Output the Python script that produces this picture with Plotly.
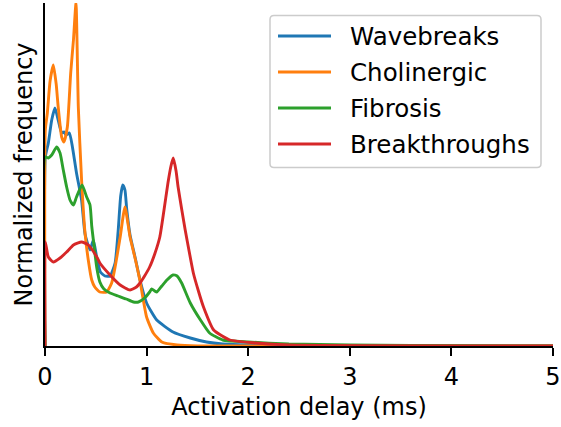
import plotly.graph_objects as go

# ---------------- data ----------------
series_names = ["Wavebreaks", "Cholinergic", "Fibrosis", "Breakthroughs"]
series_colors = ["#1f77b4", "#ff7f0e", "#2ca02c", "#d62728"]

x_wave = [0, 0.003, 0.033, 0.066, 0.098, 0.13, 0.164, 0.187, 0.207, 0.24, 0.27, 0.31,
          0.36, 0.394, 0.443, 0.476, 0.51, 0.545, 0.59, 0.64, 0.69, 0.72, 0.745, 0.765,
          0.787, 0.804, 0.837, 0.886, 0.935, 1.0, 1.1, 1.26, 1.43, 1.59, 1.75, 2.0, 2.5,
          3.0, 5.0]
y_wave = [0, 189, 203, 226, 238, 226, 213, 214, 211, 213, 199, 173,
          146, 112, 96, 106, 88, 74, 70, 70, 83, 115, 150, 161,
          156, 137, 111, 89, 66, 43, 26, 14, 8, 4, 2, 1, 0.5,
          0.3, 0]

x_chol = [0, 0.003, 0.023, 0.05, 0.082, 0.11, 0.13, 0.164, 0.187, 0.22, 0.253, 0.28,
          0.305, 0.328, 0.36, 0.394, 0.426, 0.46, 0.49, 0.54, 0.607, 0.656, 0.69, 0.74,
          0.787, 0.837, 0.886, 0.935, 1.0, 1.066, 1.15, 1.3, 1.5, 5.0]
y_chol = [0, 216, 233, 265, 281, 262, 239, 209, 204, 219, 273, 306,
          343, 239, 166, 113, 86, 66, 59, 54, 54, 63, 79, 109,
          139, 109, 88, 65, 29, 13, 4, 1, 0, 0]

x_fib = [0, 0.003, 0.033, 0.066, 0.115, 0.148, 0.18, 0.213, 0.246, 0.28, 0.31, 0.365,
         0.41, 0.443, 0.46, 0.476, 0.51, 0.54, 0.58, 0.64, 0.72, 0.8, 0.87, 0.92, 0.98,
         1.03, 1.05, 1.08, 1.1, 1.15, 1.2, 1.26, 1.3, 1.345, 1.43, 1.53, 1.62, 1.75, 2.0,
         2.4, 3.0, 3.6, 5.0]
y_fib = [0, 189, 188, 191, 199, 193, 176, 159, 146, 141, 149, 161,
         149, 141, 120, 106, 78, 64, 57, 53, 50, 47, 44, 44, 48,
         54, 57, 55, 54, 60, 66, 71, 70, 63, 43, 26, 13, 6, 4,
         2, 1, 0.5, 0]

x_brk = [0, 0.003, 0.033, 0.082, 0.148, 0.213, 0.28, 0.36, 0.426, 0.51, 0.54, 0.64,
         0.74, 0.837, 0.9, 0.935, 0.98, 1.03, 1.08, 1.13, 1.17, 1.21, 1.24, 1.263, 1.29,
         1.31, 1.345, 1.38, 1.42, 1.46, 1.51, 1.56, 1.66, 1.82, 2.08, 2.4, 5.0]
y_brk = [0, 104, 89, 84, 88, 94, 101, 104, 101, 89, 83, 71,
         61, 56, 59, 63, 70, 79, 92, 109, 135, 163, 180, 188, 175,
         159, 137, 116, 94, 73, 55, 39, 16, 6, 3, 1, 0]

x_ticks = [0, 1, 2, 3, 4, 5]
x_title = "Activation delay (ms)"
y_title = "Normalized frequency"

xs = [x_wave, x_chol, x_fib, x_brk]
ys = [y_wave, y_chol, y_fib, y_brk]

# ---------------- figure ----------------
W, H = 561, 427
L, R, T, B = 45, 8, 3, 81
FONT = "DejaVu Sans"

fig = go.Figure()
for name, col, xv, yv in zip(series_names, series_colors, xs, ys):
    fig.add_trace(go.Scatter(x=xv, y=yv, mode="lines", name=name,
                             line=dict(color=col, width=2.9, shape="spline", smoothing=0.5),
                             showlegend=False))

pw, ph = W - L - R, H - T - B


def pxx(xp):
    return (xp - L) / pw


def pyy(yp):
    return (H - B - yp) / ph


# custom legend (matplotlib style)
bx0, bx1, by0, by1, rad = 270, 541, 15.5, 167.5, 4
x0, x1 = pxx(bx0), pxx(bx1)
y0, y1 = pyy(by1), pyy(by0)
rx, ry = rad / pw, rad / ph
path = (f"M {x0+rx},{y0} L {x1-rx},{y0} Q {x1},{y0} {x1},{y0+ry} "
        f"L {x1},{y1-ry} Q {x1},{y1} {x1-rx},{y1} L {x0+rx},{y1} "
        f"Q {x0},{y1} {x0},{y1-ry} L {x0},{y0+ry} Q {x0},{y0} {x0+rx},{y0} Z")
fig.add_shape(type="path", path=path, xref="paper", yref="paper",
              line=dict(color="#cccccc", width=1.5), fillcolor="rgba(255,255,255,0.8)",
              layer="above")
row_y = [36, 72, 108, 144]
for name, col, ry_ in zip(series_names, series_colors, row_y):
    fig.add_shape(type="line", xref="paper", yref="paper",
                  x0=pxx(278), x1=pxx(331), y0=pyy(ry_), y1=pyy(ry_),
                  line=dict(color=col, width=3), layer="above")
    fig.add_annotation(x=pxx(348), y=pyy(ry_), xref="paper", yref="paper",
                       text=name, showarrow=False, xanchor="left", yanchor="middle",
                       font=dict(family=FONT, size=24.5, color="black"))

fig.update_layout(
    width=W, height=H,
    margin=dict(l=L, r=R, t=T, b=B, pad=0),
    paper_bgcolor="white", plot_bgcolor="white",
    font=dict(family=FONT, size=24, color="black"),
    showlegend=False,
)
fig.update_xaxes(range=[0, 5], tickvals=x_ticks, ticktext=[str(t) for t in x_ticks],
                 showgrid=False, zeroline=False, showline=True, linecolor="black",
                 linewidth=2, ticks="outside", ticklen=8, tickwidth=2, tickcolor="black",
                 tickfont=dict(family=FONT, size=24, color="black"),
                 title=dict(text=x_title, standoff=8,
                            font=dict(family=FONT, size=24, color="black")),
                 automargin=False)
fig.update_yaxes(range=[0, 343], showgrid=False, zeroline=False, showline=True,
                 linecolor="black", linewidth=2, ticks="", showticklabels=False,
                 layer="below traces",
                 title=dict(text=y_title, standoff=4,
                            font=dict(family=FONT, size=24, color="black")),
                 automargin=False)

fig.write_html("out.html")
